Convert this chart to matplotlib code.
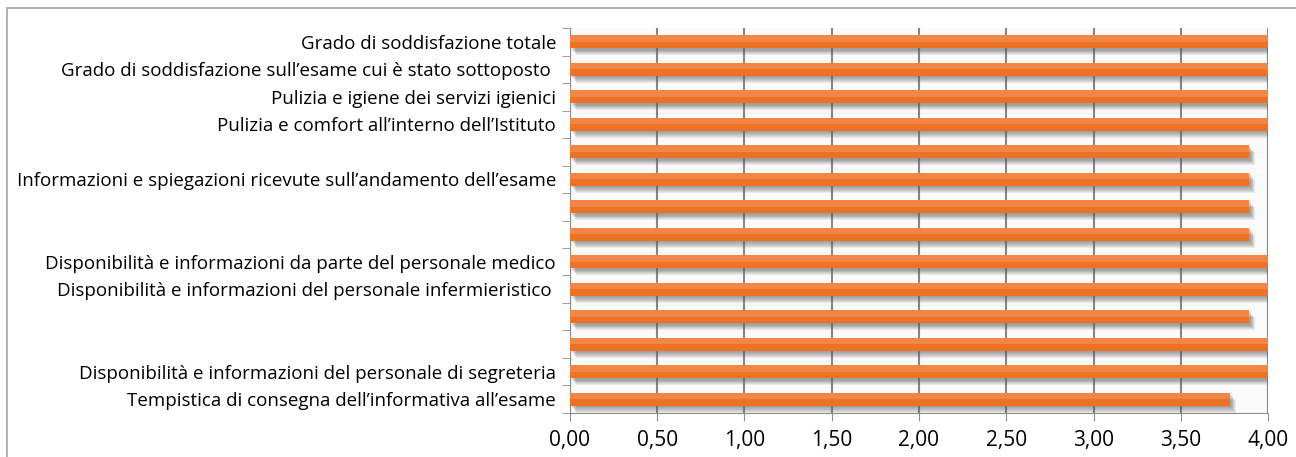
import numpy as np
import matplotlib.pyplot as plt
from matplotlib.patches import Rectangle

# categories listed from top to bottom
labels = [
    'Grado di soddisfazione totale',
    'Grado di soddisfazione sull\u2019esame cui è stato sottoposto ',
    'Pulizia e igiene dei servizi igienici',
    'Pulizia e comfort all\u2019interno dell\u2019Istituto',
    '',
    'Informazioni e spiegazioni ricevute sull\u2019andamento dell\u2019esame',
    '',
    '',
    'Disponibilità e informazioni da parte del personale medico',
    'Disponibilità e informazioni del personale infermieristico ',
    '',
    '',
    'Disponibilità e informazioni del personale di segreteria',
    'Tempistica di consegna dell\u2019informativa all\u2019esame',
]
values = [4.00, 4.00, 4.00, 4.00, 3.89, 3.89, 3.89, 3.89,
          4.00, 4.00, 3.89, 4.00, 4.00, 3.78]
xticks = [0, 0.5, 1.0, 1.5, 2.0, 2.5, 3.0, 3.5, 4.0]

plt.rcParams['font.family'] = ['Open Sans', 'DejaVu Sans']

fig = plt.figure(figsize=(12.96, 4.57), dpi=100)
ax = fig.add_axes([0.4398, 0.0963, 0.5386, 0.8424])

# outer frame of the chart
fig.patches.append(Rectangle((7 / 1296, -0.05), 1.0, 1 - 8 / 457 + 0.05,
                             transform=fig.transFigure, fill=False,
                             edgecolor='#a6a6a6', linewidth=1.2))

n = len(values)
y = np.arange(n)[::-1]
h = 0.47

# soft shadow under each bar
for k in range(7):
    ax.barh(y - 0.05 - k * 0.035, values, height=h, left=0.01 + k * 0.004,
            color='#606060', alpha=0.11, linewidth=0, zorder=2)
ax.barh(y, values, height=h, color='#ee7225', linewidth=0, zorder=3)
# lighter top half for a slight gradient
ax.barh(y + h / 4, values, height=h / 2, color='#f28646', linewidth=0, zorder=3)

ax.set_xlim(0, 4)
ax.set_ylim(-0.5, n - 0.5)
ax.set_xticks(xticks)
ax.set_xticklabels([f'{v:.2f}'.replace('.', ',') for v in xticks], fontsize=15)
ax.set_yticks(y)
ax.set_yticklabels(labels, fontsize=13.5)
ax.tick_params(axis='y', length=0, pad=10)
ax.tick_params(axis='x', length=6, color='#8c8c8c', pad=6)

# tick marks between categories on the left axis
ax.set_yticks(np.arange(-0.5, n, 1.0), minor=True)
ax.tick_params(axis='y', which='minor', length=6, color='#8c8c8c')

ax.grid(axis='x', color='#868686', linewidth=1.5, zorder=1)
ax.set_axisbelow(True)
for s in ['top', 'right']:
    ax.spines[s].set_visible(False)
for s in ['left', 'bottom']:
    ax.spines[s].set_color('#8c8c8c')
ax.set_facecolor('#fafafa')

fig.savefig('out.png', dpi=100)
